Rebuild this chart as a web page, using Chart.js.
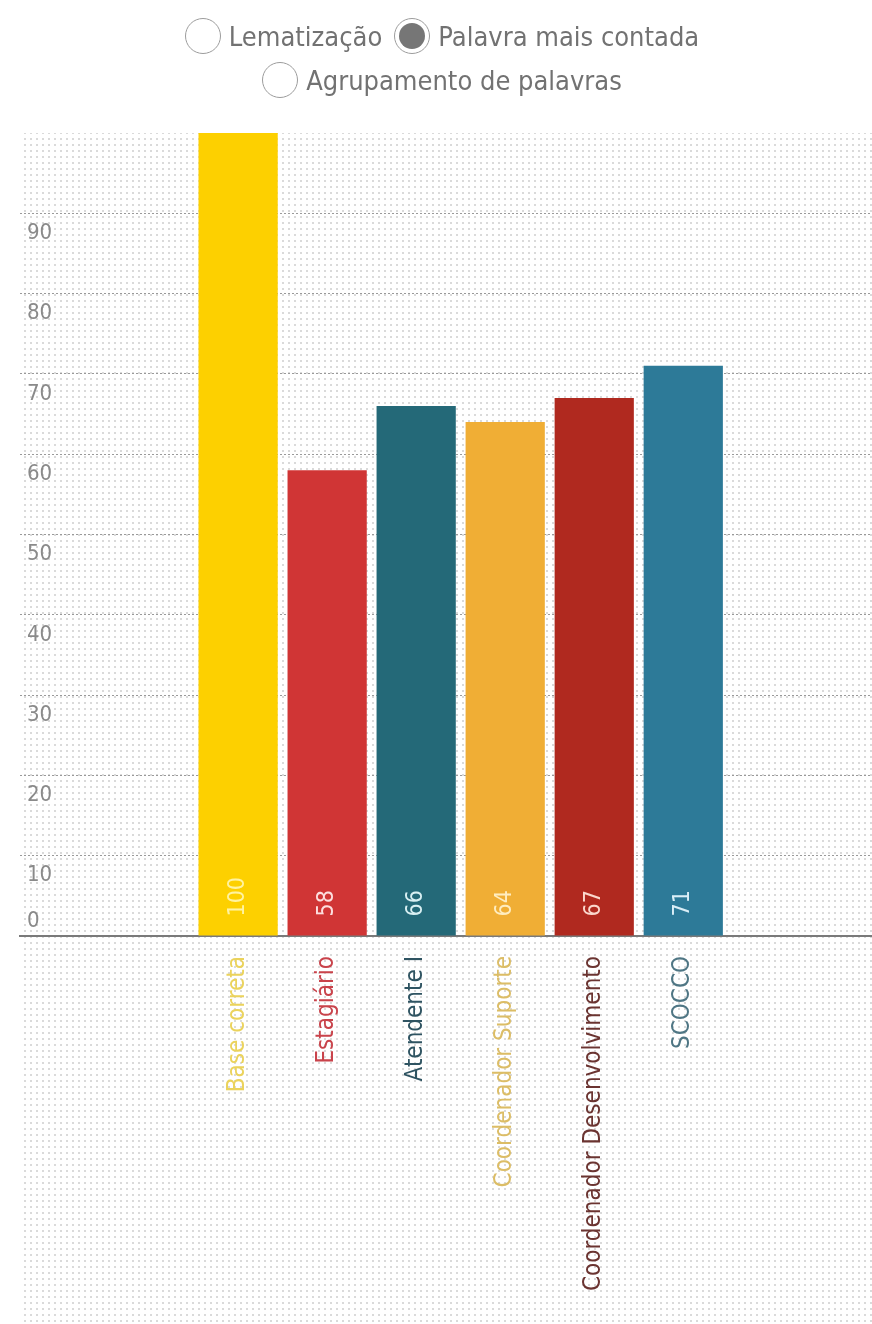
<!DOCTYPE html>
<html lang="pt">
<head>
<meta charset="utf-8">
<title>Palavra mais contada</title>
<script src="https://cdn.jsdelivr.net/npm/chart.js@4.4.1/dist/chart.umd.min.js"></script>
<style>
  html, body { margin: 0; padding: 0; background: #fff; }
  body {
    width: 872px; height: 1324px; position: relative; overflow: hidden;
    font-family: "DejaVu Sans Condensed", "Liberation Sans Narrow", sans-serif;
  }
  #modes { position: absolute; top: 14px; left: 0; width: 872px; z-index: 2; color: #727272; font-size: 27px; }
  .row { display: flex; justify-content: center; align-items: center; height: 44px; padding-left: 12px; }
  .opt { display: flex; align-items: center; margin: 0 6px; }
  .dot {
    width: 36px; height: 36px; border: 1.5px solid #9c9c9c; border-radius: 50%;
    box-sizing: border-box; margin-right: 8px; position: relative;
  }
  .dot.on::after {
    content: ""; position: absolute; left: 4px; top: 4px; right: 4px; bottom: 4px;
    border-radius: 50%; background: #767676;
  }
  #chartBox { position: absolute; left: 0; top: 0; }
</style>
</head>
<body>
<div id="modes">
  <div class="row">
    <span class="opt"><span class="dot"></span>Lematização</span>
    <span class="opt"><span class="dot on"></span>Palavra mais contada</span>
  </div>
  <div class="row">
    <span class="opt"><span class="dot"></span>Agrupamento de palavras</span>
  </div>
</div>
<canvas id="chartBox" width="872" height="1324"></canvas>
<script>
const FONT = "'DejaVu Sans Condensed', 'Liberation Sans Narrow', sans-serif";

const categories = ["Base correta", "Estagiário", "Atendente I", "Coordenador Suporte", "Coordenador Desenvolvimento", "SCOCCO"];
const counts = [100, 58, 66, 64, 67, 71];
const barColors = ["#fdd000", "#d03535", "#246978", "#f0ae35", "#b0291f", "#2d7a98"];
const nameColors = ["#ebd35c", "#c9434b", "#2f5462", "#dcbd66", "#6b3431", "#4f7684"];
const countColors = [
  "rgba(255, 244, 170, 0.95)",
  "rgba(255, 232, 232, 0.95)",
  "rgba(228, 248, 250, 0.95)",
  "rgba(255, 240, 200, 0.95)",
  "rgba(255, 225, 215, 0.95)",
  "rgba(228, 244, 252, 0.95)"
];

// light dotted paper behind the plot and the category names
const dottedPaper = {
  id: "dottedPaper",
  beforeDraw(chart) {
    const { ctx, chartArea, width, height } = chart;
    const tile = document.createElement("canvas");
    tile.width = 6;
    tile.height = 6;
    const t = tile.getContext("2d");
    t.fillStyle = "#dadada";
    t.fillRect(0, 0, 2, 2);
    ctx.save();
    ctx.fillStyle = ctx.createPattern(tile, "repeat");
    ctx.fillRect(chartArea.left, chartArea.top, width - chartArea.left, height - chartArea.top);
    ctx.restore();
  }
};

// rotated count written near the foot of each bar
const countLabels = {
  id: "countLabels",
  afterDatasetsDraw(chart) {
    const { ctx } = chart;
    const meta = chart.getDatasetMeta(0);
    ctx.save();
    ctx.font = `23px ${FONT}`;
    ctx.textAlign = "left";
    ctx.textBaseline = "middle";
    meta.data.forEach((bar, i) => {
      ctx.save();
      ctx.translate(bar.x, bar.base - 19);
      ctx.rotate(-Math.PI / 2);
      ctx.fillStyle = countColors[i];
      ctx.fillText(String(counts[i]), 0, 0);
      ctx.restore();
    });
    ctx.restore();
  }
};

new Chart(document.getElementById("chartBox"), {
  type: "bar",
  data: {
    datasets: [
      {
        data: counts.map((value, i) => ({ x: i, y: value })),
        backgroundColor: barColors,
        borderWidth: 0,
        barPercentage: 0.89,
        categoryPercentage: 1
      }
    ]
  },
  options: {
    responsive: false,
    animation: false,
    layout: { padding: { top: 133, left: 20, right: 0, bottom: 0 } },
    plugins: { legend: { display: false }, tooltip: { enabled: false } },
    scales: {
      x: {
        type: "linear",
        offset: false,
        min: -2.45,
        max: 7.12,
        grid: { display: false },
        border: { display: true, color: "#7a7a7a", width: 2 },
        afterBuildTicks: (scale) => {
          scale.ticks = categories.map((_, i) => ({ value: i }));
        },
        afterFit: (scale) => {
          scale.height = 388;
          scale.paddingLeft = 0;
          scale.paddingRight = 0;
        },
        ticks: {
          autoSkip: false,
          minRotation: 90,
          maxRotation: 90,
          padding: 12,
          color: (ctx) => nameColors[ctx.index],
          font: { family: FONT, size: 24 },
          callback: (value) => categories[value]
        }
      },
      y: {
        min: 0,
        max: 100,
        grid: {
          drawTicks: false,
          lineWidth: 1,
          color: (ctx) => (ctx.tick && ctx.tick.value === 0 ? "rgba(0,0,0,0)" : "#9a9a9a")
        },
        border: { display: false, dash: [2, 2] },
        afterFit: (scale) => {
          scale.width = 0;
          scale.paddingTop = 0;
          scale.paddingBottom = 0;
        },
        ticks: {
          stepSize: 10,
          mirror: true,
          padding: 7,
          color: "#8a8a8a",
          font: (ctx) => ({
            family: FONT,
            size: 22,
            lineHeight: ctx.tick && ctx.tick.value === 0 ? 30 / 22 : 40 / 22
          }),
          callback: (value) => {
            if (value === 100) return null;
            if (value === 0) return ["0", ""];
            return ["", String(value)];
          }
        }
      }
    }
  },
  plugins: [dottedPaper, countLabels]
});
</script>
</body>
</html>
